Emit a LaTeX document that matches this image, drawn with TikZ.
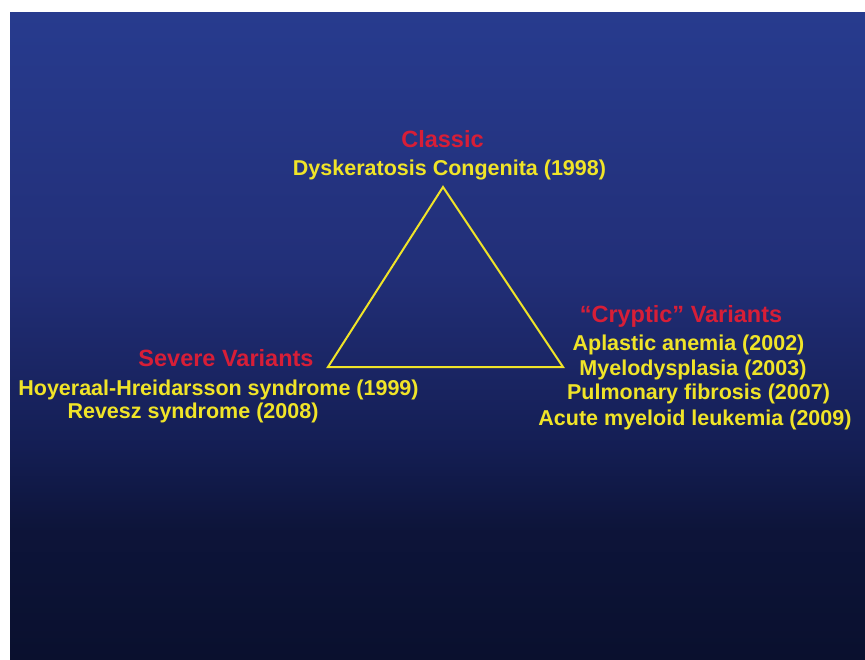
\documentclass[tikz,border=0pt]{standalone}
\usepackage{fontspec}
\setmainfont{Liberation Sans}
\usepackage{xcolor}
\definecolor{cTitle}{RGB}{215,30,55}
\definecolor{cItem}{RGB}{240,228,40}
\definecolor{cBgTop}{RGB}{39,59,142}
\definecolor{cBgMid}{RGB}{34,47,120}
\definecolor{cBgLow}{RGB}{20,30,84}
\definecolor{cBgBot}{RGB}{10,16,46}
\pgfdeclareverticalshading{bgfade}{100bp}{color(0bp)=(cBgBot); color(25bp)=(cBgBot); color(35bp)=(cBgBot!70!cBgLow); color(41.5bp)=(cBgLow); color(55bp)=(cBgMid); color(75bp)=(cBgTop); color(100bp)=(cBgTop)}

\begin{document}
\begin{tikzpicture}[
    x=1pt, y=-1pt,
    heading/.style={anchor=base,font=\fontsize{23.5}{27}\selectfont\bfseries,text=cTitle,inner sep=0pt},
    item/.style={anchor=base,font=\fontsize{21.5}{25}\selectfont\bfseries,text=cItem,inner sep=0pt}
  ]
  \useasboundingbox (0,0) rectangle (865,659);
  % Background
  \fill[white] (0,0) rectangle (865,659);
  \shade[shading=bgfade] (10,12) rectangle (865,659);
  % Triangle
  \coordinate (top) at (443,187);
  \coordinate (left) at (328,367);
  \coordinate (right) at (563,367);
  \draw[cItem,line width=2pt,line join=miter] (top) -- (left) -- (right) -- cycle;
  % Classic
  \node[heading] (classic) at (442.5,147) {Classic};
  \node[item] (dc) at (449.5,175) {Dyskeratosis Congenita (1998)};
  % Severe variants
  \node[heading] (severe) at (226,366) {Severe Variants};
  \node[item] (hh) at (218.5,395) {Hoyeraal-Hreidarsson syndrome (1999)};
  \node[item] (rv) at (193,418) {Revesz syndrome (2008)};
  % Cryptic variants
  \node[heading] (cryptic) at (681,322) {“Cryptic” Variants};
  \node[item] (aa) at (688.5,350) {Aplastic anemia (2002)};
  \node[item] (md) at (693,375) {Myelodysplasia (2003)};
  \node[item] (pf) at (698.5,399) {Pulmonary fibrosis (2007)};
  \node[item] (aml) at (695,425) {Acute myeloid leukemia (2009)};
\end{tikzpicture}
\end{document}
